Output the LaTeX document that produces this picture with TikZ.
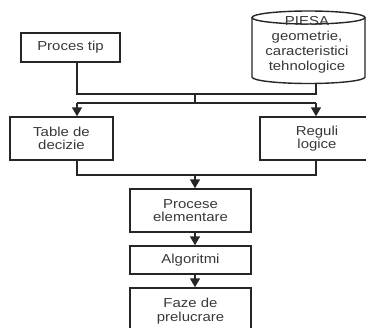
\documentclass[tikz,border=0pt]{standalone}
\usepackage{fontspec}
\setmainfont{Liberation Sans}[FakeStretch=1.15]
\usetikzlibrary{arrows.meta}
\begin{document}
\begin{tikzpicture}[x=1pt,y=-1pt,
  line/.style={draw=black!85, line width=1.4pt},
  lbl/.style={text=black!78, align=center, font=\fontsize{13}{13.5}\selectfont},
  box/.style={line, lbl, rectangle, inner sep=0pt},
  flow/.style={line, -{Triangle[length=9pt,width=10pt]}},
]
\useasboundingbox (0,0) rectangle (366,327);
\clip (0,0) rectangle (366,327);

% process boxes
\node[box, minimum width=99pt, minimum height=29pt]  (proc)    at (70.5,47.5)  {Proces tip};
\node[box, minimum width=103pt, minimum height=43pt] (table)   at (61.5,138.5) {Table de\\decizie};
\node[box, minimum width=114pt, minimum height=43pt] (reguli)  at (317,138.5)  {Reguli\\logice};
\node[box, minimum width=121pt, minimum height=43pt] (procese) at (190.5,210.5) {Procese\\elementare};
\node[box, minimum width=121pt, minimum height=28pt] (algo)    at (190.5,260)  {Algoritmi};
\node[box, minimum width=121pt, minimum height=46pt] (faze)    at (190.5,311)  {Faze de\\prelucrare};

% part data store (cylinder)
\draw[line, fill=white] (252,17.5) -- (252,77)
  arc[start angle=180, end angle=360, x radius=56.5pt, y radius=6.5pt]
  -- (365,17.5);
\draw[line] (308.5,17.5) ellipse[x radius=56.5pt, y radius=6.5pt];
\node[lbl, font=\fontsize{13}{15}\selectfont] (piesa) at (307,44.5)
  {PIESA\\geometrie,\\caracteristici\\tehnologice};
\coordinate (piesaB) at (316,83.3);

% upper bus joining the two sources
\coordinate (busL) at (77,94);
\coordinate (busR) at (316,94);
\coordinate (busC) at (195,94);
\coordinate (splC) at (195,103);
\coordinate (splL) at (77,103);
\coordinate (splR) at (316,103);
\draw[line] (proc.south -| busL) -- (busL) -- (busR) -- (piesaB);
\draw[line] (busC) -- (splC);
\draw[line] (splL) -- (splR);
\draw[flow] (splL) -- (splL |- table.north);
\draw[flow] (splR) -- (splR |- reguli.north);

% lower bus merging into the chain
\coordinate (mrgL) at (77,175);
\coordinate (mrgR) at (316,175);
\coordinate (mrgC) at (195,175);
\draw[line] (table.south -| mrgL) -- (mrgL) -- (mrgR) -- (reguli.south -| mrgR);
\draw[flow] (mrgC) -- (mrgC |- procese.north);
\draw[flow] (procese.south -| mrgC) -- (mrgC |- algo.north);
\draw[flow] (algo.south -| mrgC) -- (mrgC |- faze.north);
\end{tikzpicture}
\end{document}
